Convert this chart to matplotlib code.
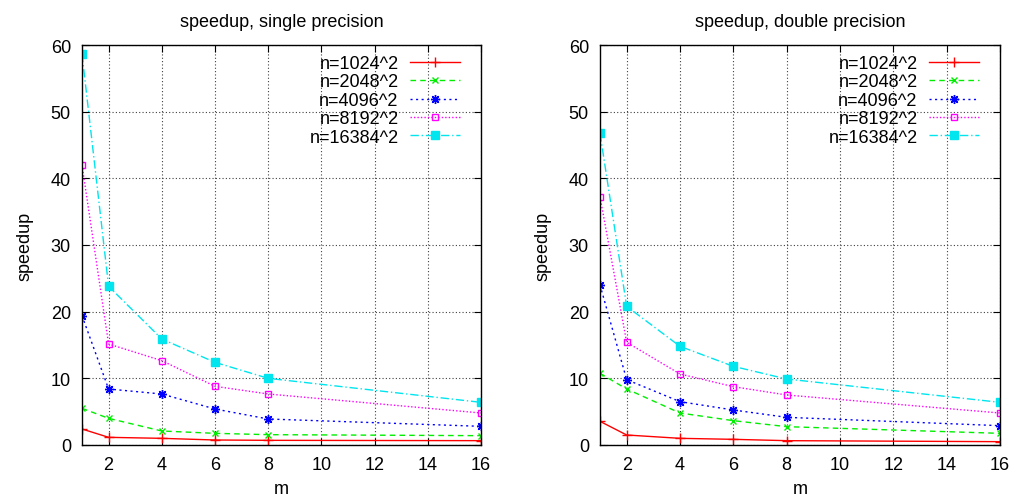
import matplotlib
matplotlib.use("Agg")
import matplotlib.pyplot as plt

plt.rcParams['font.family'] = ['Liberation Sans', 'DejaVu Sans']

m = [1, 2, 4, 6, 8, 16]
labels = ["n=1024^2", "n=2048^2", "n=4096^2", "n=8192^2", "n=16384^2"]

single = [
    [2.4, 1.15, 1.0, 0.75, 0.7, 0.65],
    [5.5, 4.0, 2.1, 1.75, 1.55, 1.4],
    [19.4, 8.4, 7.65, 5.4, 3.9, 2.8],
    [42.0, 15.15, 12.65, 8.8, 7.65, 4.8],
    [58.65, 23.8, 15.9, 12.4, 10.0, 6.4],
]
double = [
    [3.55, 1.5, 1.0, 0.85, 0.65, 0.5],
    [10.75, 8.4, 4.8, 3.65, 2.75, 1.75],
    [24.0, 9.8, 6.5, 5.25, 4.15, 2.9],
    [37.25, 15.4, 10.65, 8.75, 7.5, 4.8],
    [46.75, 20.8, 14.8, 11.8, 9.9, 6.4],
]

styles = [
    dict(color="#ff0000", ls="-", marker="+", ms=6.5),
    dict(color="#00ee00", ls=(0, (4, 3)), marker="x", ms=5),
    dict(color="#0000ff", ls=(0, (1.5, 2.5)), marker=(8, 2, 0), ms=6.5),
    dict(color="#ff00ff", ls=(0, (1, 1.5)), marker="s", ms=5, mfc="none"),
    dict(color="#00e5ee", ls=(0, (6, 2, 1, 2)), marker="s", ms=5.5),
]

fig = plt.figure(figsize=(10.18, 5.02), dpi=100)
ax1 = fig.add_axes([82 / 1018, 1 - 446 / 502, 399 / 1018, 400 / 502])
ax2 = fig.add_axes([600 / 1018, 1 - 446 / 502, 400 / 1018, 400 / 502])

for ax, data, title in [(ax1, single, "speedup, single precision"),
                        (ax2, double, "speedup, double precision")]:
    for vals, lab, st in zip(data, labels, styles):
        ax.plot(m, vals, label=lab, lw=1, mew=1, **st)
    ax.set_xlim(1, 16)
    ax.set_ylim(0, 60)
    ax.set_xticks(range(2, 17, 2))
    ax.set_yticks(range(0, 61, 10))
    ax.grid(True, color="0.25", ls=(0, (1, 2)), lw=0.8)
    ax.tick_params(direction="in", top=True, right=True, labelsize=13,
                   length=5, pad=8)
    ax.set_title(title, fontsize=13, pad=14)
    ax.set_xlabel("m", fontsize=13, va="center")
    ax.set_ylabel("speedup", fontsize=13, va="center")
    ax.xaxis.set_label_coords(0.5, -44 / 400)
    ax.yaxis.set_label_coords(-57 / 400, 0.5)
    ax.legend(loc="upper right", frameon=False, markerfirst=False, fontsize=13,
              handlelength=2.75, labelspacing=0.08, borderaxespad=0.3,
              borderpad=0.25, handletextpad=0.66,
              bbox_to_anchor=(1 - 11 / 400, 1.0))
    for t in ax.get_legend().get_texts():
        t.set_ha("right")
        t.set_position((0, 0))
    for s in ax.spines.values():
        s.set_linewidth(1)

fig.savefig("out.png", dpi=100)
